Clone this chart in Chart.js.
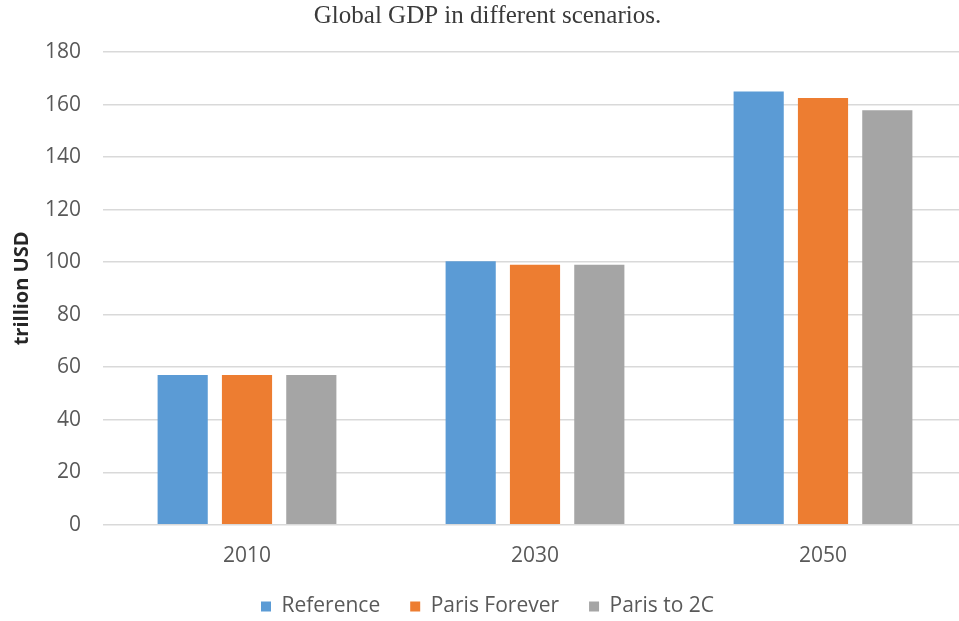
<!DOCTYPE html>
<html>
<head>
<meta charset="utf-8">
<script src="https://cdn.jsdelivr.net/npm/chart.js@4"></script>
<style>
  html, body { margin: 0; padding: 0; background: #fff; overflow: hidden; }
  #wrap { width: 975px; height: 630px; position: relative; }
</style>
</head>
<body>
<div id="wrap"><canvas id="gdpChart"></canvas></div>
<script>
const years = ["2010", "2030", "2050"];
const reference = [57, 100.3, 165];
const parisForever = [57, 99, 162.5];
const parisTo2C = [57, 99, 157.8];
const yTicks = [0, 20, 40, 60, 80, 100, 120, 140, 160, 180];

const tickColor = '#595959';
const sans = "'Open Sans', 'Noto Sans', sans-serif";

function bar(label, data, color) {
  return {
    label: label,
    data: data,
    backgroundColor: color,
    borderWidth: 0,
    barPercentage: 0.78,
    categoryPercentage: 0.67
  };
}

new Chart(document.getElementById("gdpChart"), {
  type: 'bar',
  data: {
    labels: years,
    datasets: [
      bar('Reference', reference, '#5B9BD5'),
      bar('Paris Forever', parisForever, '#ED7D31'),
      bar('Paris to 2C', parisTo2C, '#A5A5A5')
    ]
  },
  options: {
    responsive: true,
    maintainAspectRatio: false,
    animation: false,
    layout: { padding: { left: 8, right: 8, top: 1, bottom: 3 } },
    plugins: {
      title: {
        display: true,
        text: 'Global GDP in different scenarios.',
        color: '#3a3a3a',
        font: { family: "'Liberation Serif', 'DejaVu Serif', serif", size: 25, weight: 'normal' },
        padding: { top: 0, bottom: 21 }
      },
      legend: {
        position: 'bottom',
        labels: {
          color: tickColor,
          font: { family: sans, size: 21 },
          boxWidth: 10,
          boxHeight: 10,
          padding: 30
        }
      },
      tooltip: { enabled: false }
    },
    scales: {
      x: {
        grid: { display: false },
        border: { color: '#d9d9d9' },
        // shrink the axis box so the legend sits closer without moving the labels
        afterFit: axis => { axis.height -= 14; },
        ticks: { color: tickColor, font: { family: sans, size: 21 }, padding: 11 }
      },
      y: {
        min: 0,
        max: 180,
        afterBuildTicks: axis => { axis.ticks = yTicks.map(v => ({ value: v })); },
        afterFit: axis => { axis.width = 95; },
        grid: { color: '#d9d9d9', lineWidth: 1.5, drawTicks: false },
        border: { display: false },
        ticks: { color: tickColor, font: { family: sans, size: 21 }, padding: 22 },
        title: {
          display: true,
          text: 'trillion USD',
          color: '#262626',
          font: { family: sans, size: 20, weight: 'bold' },
          padding: { top: 2, bottom: 0 }
        }
      }
    }
  }
});
</script>
</body>
</html>
